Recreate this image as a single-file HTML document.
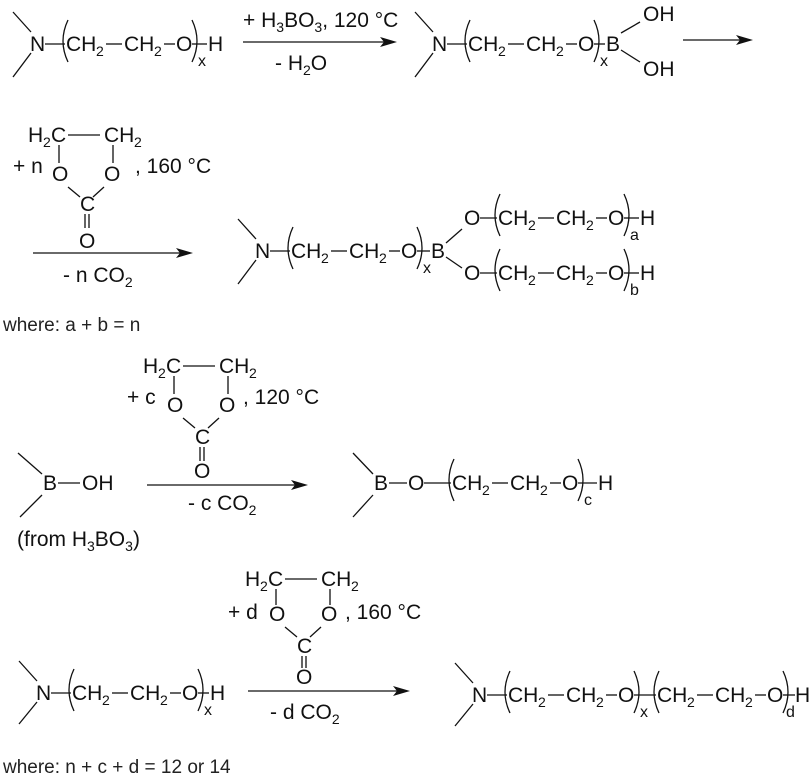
<!DOCTYPE html>
<html><head><meta charset="utf-8"><style>
html,body{margin:0;padding:0;background:#fff}
svg{display:block}
text{font-family:"Liberation Sans",sans-serif;font-size:21px;fill:#111}
.s{font-size:14px}
.sub{font-size:16px}
.w{font-size:19px;fill:#222}
line,path{stroke:#111;stroke-width:1.3;fill:none}
polygon{fill:#111}
</style></head><body>
<svg width="812" height="778" viewBox="0 0 812 778" xmlns="http://www.w3.org/2000/svg">

<!-- ===== Row 1 ===== -->
<line x1="13" y1="12" x2="31" y2="32"/><line x1="31" y1="53" x2="13" y2="77"/>
<text x="30" y="51">N</text><line x1="45" y1="44" x2="65" y2="44"/>
<g transform="translate(66,51)">
<text x="0" y="0">CH</text><text class="s" x="30" y="5">2</text>
<line x1="40" y1="-7" x2="56" y2="-7"/>
<text x="58" y="0">CH</text><text class="s" x="88" y="5">2</text>
<line x1="98" y1="-7" x2="109" y2="-7"/>
<text x="110" y="0">O</text>
<path d="M2,-31 Q-8,-10 2,11"/><path d="M126,-31 Q136,-10 126,11"/>
<text class="sub" x="132" y="15">x</text>
<line x1="126" y1="-7" x2="141" y2="-7"/><text x="142" y="0">H</text>
</g>
<text x="243" y="27">+ H<tspan class="s" dy="5">3</tspan><tspan dy="-5">BO</tspan><tspan class="s" dy="5">3</tspan><tspan dy="-5">, 120 °C</tspan></text>
<line x1="243" y1="42" x2="385" y2="42"/><polygon points="397,42 380,37 384,42 380,47"/>
<text x="275" y="70">- H<tspan class="s" dy="5">2</tspan><tspan dy="-5">O</tspan></text>

<line x1="415" y1="12" x2="433" y2="32"/><line x1="433" y1="53" x2="415" y2="77"/>
<text x="432" y="51">N</text><line x1="447" y1="44" x2="467" y2="44"/>
<g transform="translate(468,51)">
<text x="0" y="0">CH</text><text class="s" x="30" y="5">2</text>
<line x1="40" y1="-7" x2="56" y2="-7"/>
<text x="58" y="0">CH</text><text class="s" x="88" y="5">2</text>
<line x1="98" y1="-7" x2="109" y2="-7"/>
<text x="110" y="0">O</text>
<path d="M2,-31 Q-8,-10 2,11"/><path d="M126,-31 Q136,-10 126,11"/>
<text class="sub" x="132" y="15">x</text>
<line x1="126" y1="-7" x2="137" y2="-7"/>
</g>
<text x="606" y="51">B</text>
<line x1="621" y1="33" x2="640" y2="22"/><line x1="621" y1="50" x2="640" y2="62"/>
<text x="643" y="21">OH</text><text x="643" y="76">OH</text>
<line x1="683" y1="40" x2="742" y2="40"/><polygon points="753,40 736,35 740,40 736,45"/>

<!-- ===== Row 2 ===== -->
<g transform="translate(28,142)">
<text x="0" y="0">H</text><text class="s" x="15" y="5">2</text><text x="23" y="0">C</text>
<line x1="40" y1="-7" x2="72" y2="-7"/>
<text x="76" y="0">CH</text><text class="s" x="106" y="5">2</text>
<line x1="31" y1="3" x2="31" y2="21"/><line x1="85" y1="3" x2="85" y2="21"/>
<text x="24" y="39">O</text><text x="76" y="39">O</text>
<line x1="40" y1="45" x2="52" y2="55"/><line x1="76" y1="45" x2="65" y2="55"/>
<text x="52" y="69">C</text>
<line x1="57" y1="72" x2="57" y2="86"/><line x1="61" y1="72" x2="61" y2="86"/>
<text x="51" y="106">O</text>
<text x="-15" y="31">+ n</text><text x="107" y="31">, 160 °C</text>
</g>
<line x1="33" y1="253" x2="181" y2="253"/><polygon points="193,253 176,248 180,253 176,258"/>
<text x="63" y="282">- n CO<tspan class="s" dy="5">2</tspan></text>

<line x1="238" y1="219" x2="256" y2="239"/><line x1="256" y1="260" x2="238" y2="284"/>
<text x="255" y="258">N</text><line x1="270" y1="251" x2="290" y2="251"/>
<g transform="translate(291,258)">
<text x="0" y="0">CH</text><text class="s" x="30" y="5">2</text>
<line x1="40" y1="-7" x2="56" y2="-7"/>
<text x="58" y="0">CH</text><text class="s" x="88" y="5">2</text>
<line x1="98" y1="-7" x2="109" y2="-7"/>
<text x="110" y="0">O</text>
<path d="M2,-31 Q-8,-10 2,11"/><path d="M126,-31 Q136,-10 126,11"/>
<text class="sub" x="132" y="15">x</text>
<line x1="126" y1="-7" x2="139" y2="-7"/>
</g>
<text x="431" y="258">B</text>
<line x1="446" y1="243" x2="462" y2="229"/><line x1="446" y1="257" x2="462" y2="268"/>
<text x="464" y="225">O</text><line x1="480" y1="218" x2="497" y2="218"/>
<g transform="translate(498,225)">
<text x="0" y="0">CH</text><text class="s" x="30" y="5">2</text>
<line x1="40" y1="-7" x2="56" y2="-7"/>
<text x="58" y="0">CH</text><text class="s" x="88" y="5">2</text>
<line x1="98" y1="-7" x2="109" y2="-7"/>
<text x="110" y="0">O</text>
<path d="M2,-31 Q-8,-10 2,11"/><path d="M126,-31 Q136,-10 126,11"/>
<text class="sub" x="132" y="15">a</text>
<line x1="126" y1="-7" x2="141" y2="-7"/><text x="142" y="0">H</text>
</g>
<text x="464" y="280">O</text><line x1="480" y1="273" x2="497" y2="273"/>
<g transform="translate(498,280)">
<text x="0" y="0">CH</text><text class="s" x="30" y="5">2</text>
<line x1="40" y1="-7" x2="56" y2="-7"/>
<text x="58" y="0">CH</text><text class="s" x="88" y="5">2</text>
<line x1="98" y1="-7" x2="109" y2="-7"/>
<text x="110" y="0">O</text>
<path d="M2,-31 Q-8,-10 2,11"/><path d="M126,-31 Q136,-10 126,11"/>
<text class="sub" x="132" y="15">b</text>
<line x1="126" y1="-7" x2="141" y2="-7"/><text x="142" y="0">H</text>
</g>
<text class="w" x="3" y="331">where: a + b = n</text>

<!-- ===== Row 3 ===== -->
<g transform="translate(143,373)">
<text x="0" y="0">H</text><text class="s" x="15" y="5">2</text><text x="23" y="0">C</text>
<line x1="40" y1="-7" x2="72" y2="-7"/>
<text x="76" y="0">CH</text><text class="s" x="106" y="5">2</text>
<line x1="31" y1="3" x2="31" y2="21"/><line x1="85" y1="3" x2="85" y2="21"/>
<text x="24" y="39">O</text><text x="76" y="39">O</text>
<line x1="40" y1="45" x2="52" y2="55"/><line x1="76" y1="45" x2="65" y2="55"/>
<text x="52" y="71">C</text>
<line x1="57" y1="74" x2="57" y2="88"/><line x1="61" y1="74" x2="61" y2="88"/>
<text x="51" y="105">O</text>
<text x="-16" y="31">+ c</text><text x="100" y="31">, 120 °C</text>
</g>
<line x1="18" y1="453" x2="42" y2="474"/><line x1="42" y1="495" x2="20" y2="517"/>
<text x="43" y="490">B</text><line x1="58" y1="483" x2="80" y2="483"/><text x="82" y="490">OH</text>
<text x="17" y="546">(from H<tspan class="s" dy="5">3</tspan><tspan dy="-5">BO</tspan><tspan class="s" dy="5">3</tspan><tspan dy="-5">)</tspan></text>
<line x1="147" y1="485" x2="296" y2="485"/><polygon points="308,485 291,480 295,485 291,490"/>
<text x="188" y="510">- c CO<tspan class="s" dy="5">2</tspan></text>

<line x1="353" y1="453" x2="373" y2="474"/><line x1="373" y1="495" x2="353" y2="517"/>
<text x="374" y="490">B</text><line x1="389" y1="483" x2="407" y2="483"/>
<text x="408" y="490">O</text><line x1="424" y1="483" x2="451" y2="483"/>
<g transform="translate(452,490)">
<text x="0" y="0">CH</text><text class="s" x="30" y="5">2</text>
<line x1="40" y1="-7" x2="56" y2="-7"/>
<text x="58" y="0">CH</text><text class="s" x="88" y="5">2</text>
<line x1="98" y1="-7" x2="109" y2="-7"/>
<text x="110" y="0">O</text>
<path d="M2,-31 Q-8,-10 2,11"/><path d="M126,-31 Q136,-10 126,11"/>
<text class="sub" x="132" y="15">c</text>
<line x1="126" y1="-7" x2="145" y2="-7"/><text x="146" y="0">H</text>
</g>

<!-- ===== Row 4 ===== -->
<g transform="translate(245,586)">
<text x="0" y="0">H</text><text class="s" x="15" y="5">2</text><text x="23" y="0">C</text>
<line x1="40" y1="-7" x2="72" y2="-7"/>
<text x="76" y="0">CH</text><text class="s" x="106" y="5">2</text>
<line x1="31" y1="3" x2="31" y2="19"/><line x1="85" y1="3" x2="85" y2="19"/>
<text x="24" y="35">O</text><text x="76" y="35">O</text>
<line x1="40" y1="41" x2="52" y2="51"/><line x1="76" y1="41" x2="65" y2="51"/>
<text x="52" y="67">C</text>
<line x1="57" y1="70" x2="57" y2="82"/><line x1="61" y1="70" x2="61" y2="82"/>
<text x="51" y="98">O</text>
<text x="-17" y="33">+ d</text><text x="100" y="33">, 160 °C</text>
</g>
<line x1="19" y1="661" x2="37" y2="681"/><line x1="37" y1="702" x2="19" y2="724"/>
<text x="36" y="700">N</text><line x1="51" y1="693" x2="71" y2="693"/>
<g transform="translate(72,700)">
<text x="0" y="0">CH</text><text class="s" x="30" y="5">2</text>
<line x1="40" y1="-7" x2="56" y2="-7"/>
<text x="58" y="0">CH</text><text class="s" x="88" y="5">2</text>
<line x1="98" y1="-7" x2="109" y2="-7"/>
<text x="110" y="0">O</text>
<path d="M2,-31 Q-8,-10 2,11"/><path d="M126,-31 Q136,-10 126,11"/>
<text class="sub" x="132" y="15">x</text>
<line x1="126" y1="-7" x2="137" y2="-7"/><text x="138" y="0">H</text>
</g>
<line x1="248" y1="691" x2="398" y2="691"/><polygon points="410,691 393,686 397,691 393,696"/>
<text x="270" y="719">- d CO<tspan class="s" dy="5">2</tspan></text>

<line x1="455" y1="663" x2="473" y2="683"/><line x1="473" y1="704" x2="455" y2="726"/>
<text x="472" y="702">N</text><line x1="487" y1="695" x2="507" y2="695"/>
<g transform="translate(508,702)">
<text x="0" y="0">CH</text><text class="s" x="30" y="5">2</text>
<line x1="40" y1="-7" x2="56" y2="-7"/>
<text x="58" y="0">CH</text><text class="s" x="88" y="5">2</text>
<line x1="98" y1="-7" x2="109" y2="-7"/>
<text x="110" y="0">O</text>
<path d="M2,-31 Q-8,-10 2,11"/><path d="M126,-31 Q136,-10 126,11"/>
<text class="sub" x="132" y="15">x</text>
<line x1="126" y1="-7" x2="148" y2="-7"/>
</g>
<g transform="translate(657,702)">
<text x="0" y="0">CH</text><text class="s" x="30" y="5">2</text>
<line x1="40" y1="-7" x2="56" y2="-7"/>
<text x="58" y="0">CH</text><text class="s" x="88" y="5">2</text>
<line x1="98" y1="-7" x2="109" y2="-7"/>
<text x="110" y="0">O</text>
<path d="M2,-31 Q-8,-10 2,11"/><path d="M126,-31 Q136,-10 126,11"/>
<text class="sub" x="129" y="15">d</text>
<line x1="126" y1="-7" x2="138" y2="-7"/><text x="138" y="0">H</text>
</g>
<text class="w" x="3" y="773">where: n + c + d = 12 or 14</text>
</svg>
</body></html>
